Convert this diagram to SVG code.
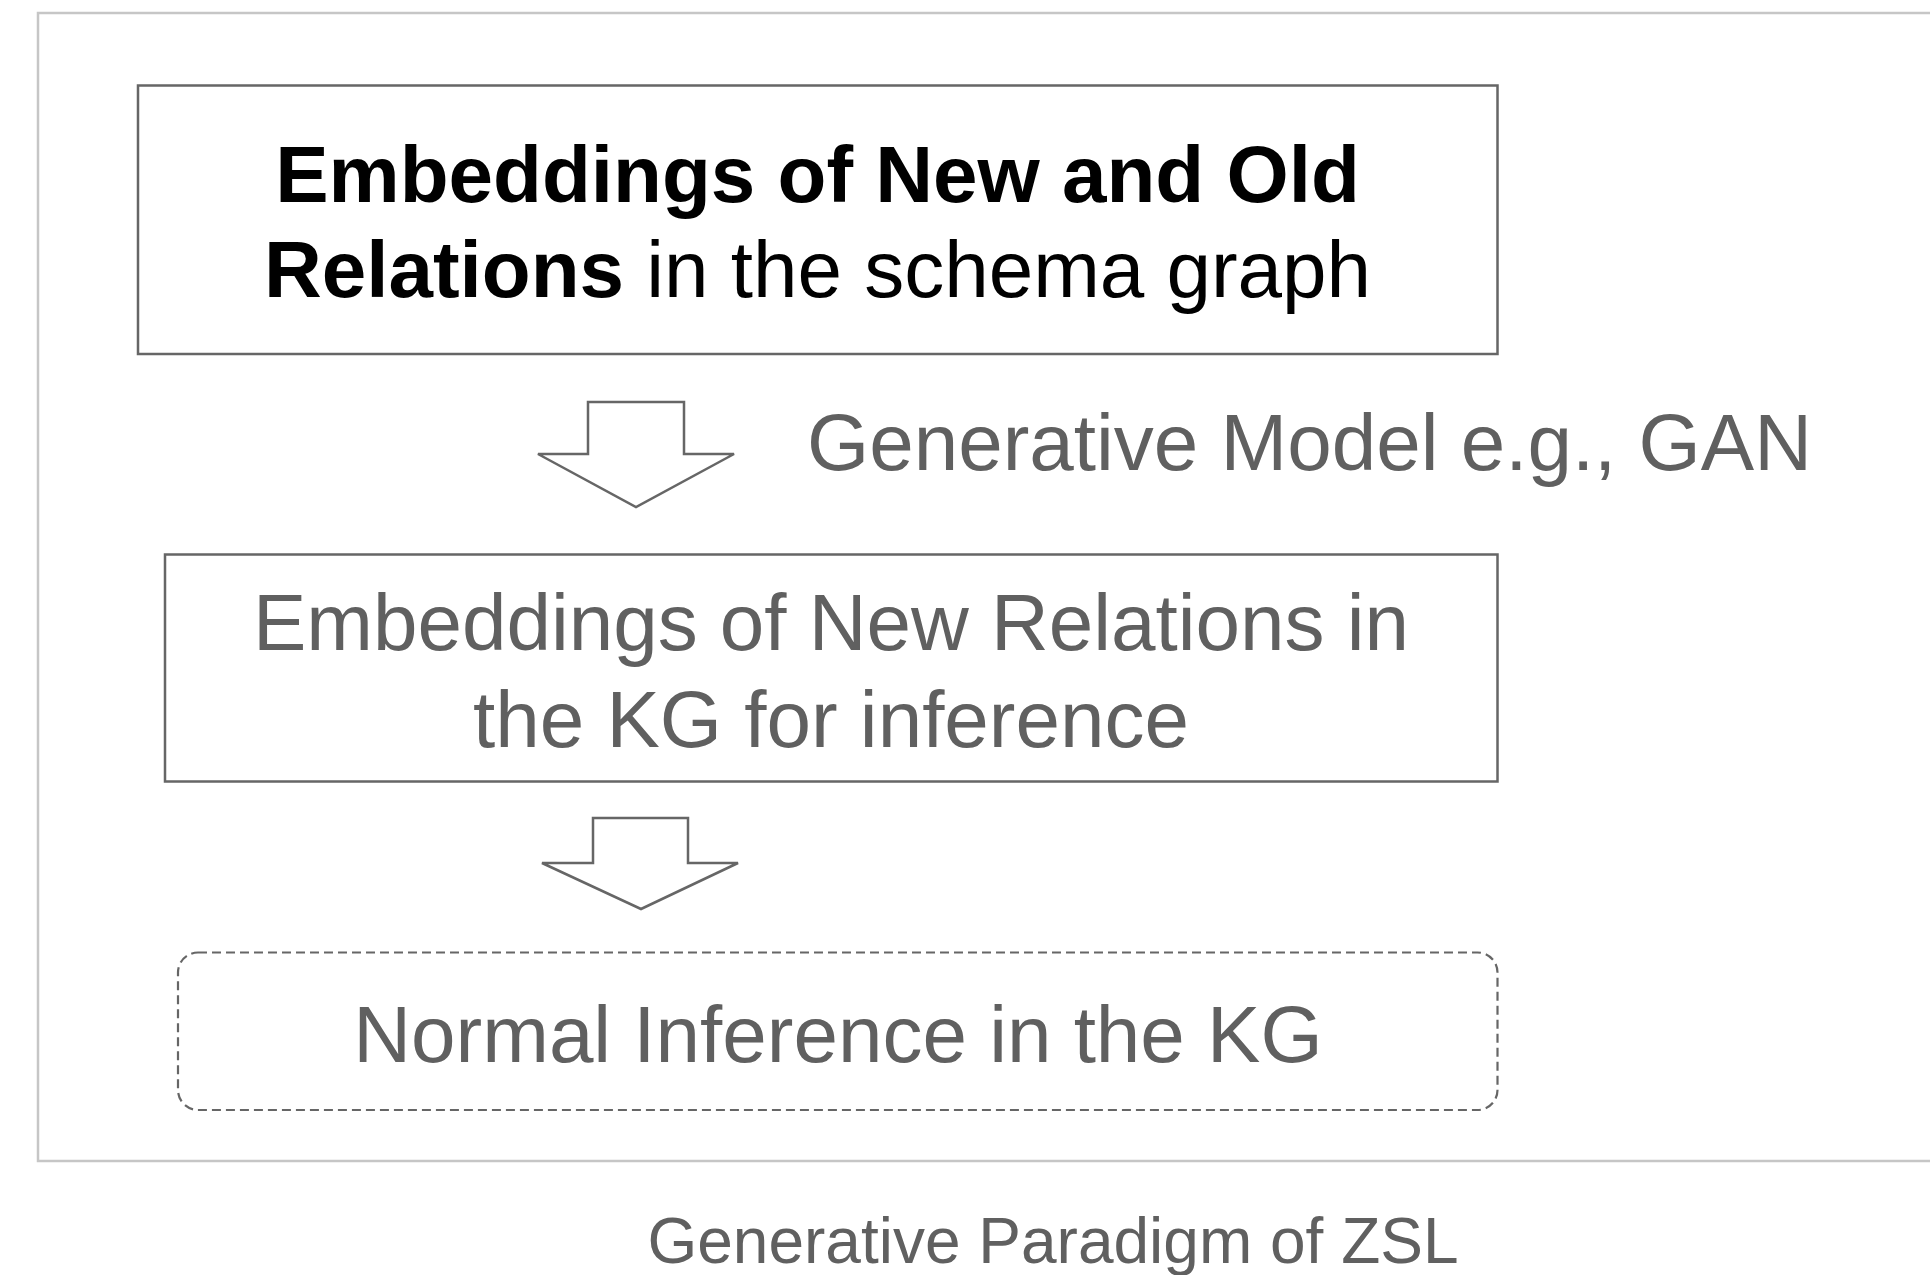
<svg xmlns="http://www.w3.org/2000/svg" width="1930" height="1275" viewBox="0 0 1930 1275">
  <style>
    .frame { fill: none; stroke: #c6c6c6; stroke-width: 2.5; }
    .box { fill: #ffffff; stroke: #666666; stroke-width: 2.5; }
    .dashed { fill: #ffffff; stroke: #666666; stroke-width: 2.2; stroke-dasharray: 9 5; }
    .arrow { fill: #ffffff; stroke: #666666; stroke-width: 2.5; stroke-linejoin: miter; }
    .t { font-family: "Liberation Sans", Arial, Helvetica, sans-serif; font-size: 80px; }
    .dark { fill: #000000; }
    .grey { fill: #606060; }
    .b { font-weight: bold; }
  </style>

  <rect width="1930" height="1275" fill="#ffffff"/>

  <!-- outer panel (open on the right edge) -->
  <rect class="frame" x="38" y="13" width="1920" height="1148"/>

  <!-- block arrows between stages -->
  <g id="connectors">
    <polygon class="arrow" points="588,402 684,402 684,454 734,454 636,507 538,454 588,454"/>
    <polygon class="arrow" points="593,818 688,818 688,863 738,863 641,909 542,863 593,863"/>
  </g>

  <g id="schema-embeddings">
    <rect class="box" x="138" y="85.5" width="1359.5" height="268.5"/>
    <text class="t dark" x="817.5" y="202" text-anchor="middle"><tspan class="b">Embeddings of New and Old</tspan></text>
    <text class="t dark" x="817.5" y="297" text-anchor="middle"><tspan class="b">Relations</tspan> in the schema graph</text>
  </g>

  <g id="generator-label">
    <text class="t grey" x="807" y="470">Generative Model e.g., GAN</text>
  </g>

  <g id="kg-embeddings">
    <rect class="box" x="165" y="554.5" width="1332.5" height="227"/>
    <text class="t grey" x="831" y="650" text-anchor="middle">Embeddings of New Relations in</text>
    <text class="t grey" x="831" y="747" text-anchor="middle">the KG for inference</text>
  </g>

  <g id="normal-inference">
    <rect class="dashed" x="178" y="952.5" width="1319.5" height="157.5" rx="20" ry="20"/>
    <text class="t grey" x="838" y="1062" text-anchor="middle">Normal Inference in the KG</text>
  </g>

  <g id="caption">
    <text class="t grey" x="1053" y="1263" text-anchor="middle" style="font-size:64px">Generative Paradigm of ZSL</text>
  </g>
</svg>
